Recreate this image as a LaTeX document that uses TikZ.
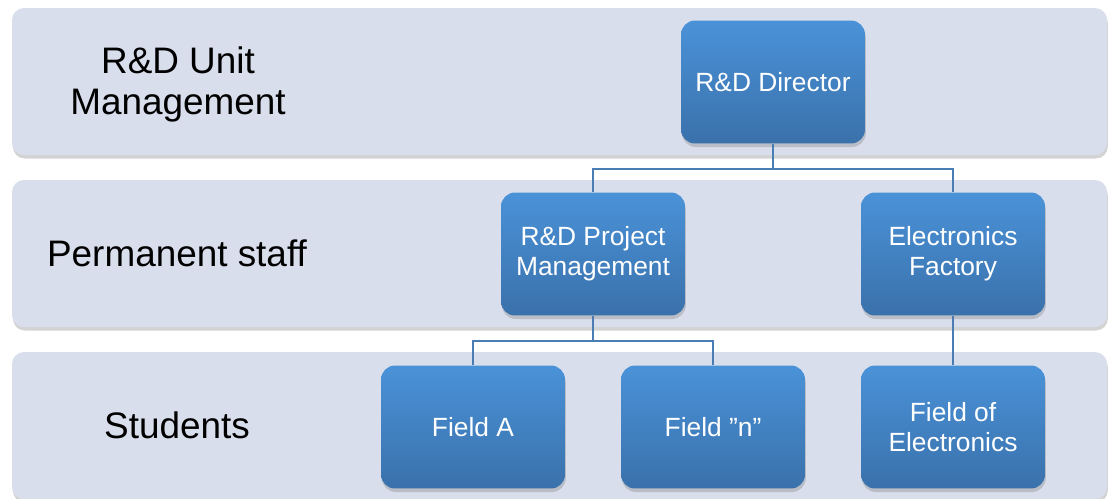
\documentclass[tikz,border=0pt]{standalone}
\usepackage{fontspec}
\setmainfont{Liberation Sans}
\usetikzlibrary{shadows}
\definecolor{fascia}{HTML}{D9DEEC}
\definecolor{bluchiaro}{HTML}{4A92D8}
\definecolor{bluscuro}{HTML}{3A71AB}
\definecolor{linea}{HTML}{4A7DB4}

\begin{document}
\begin{tikzpicture}[x=0.02cm, y=-0.02cm,
    banda/.style={fill=fascia, rounded corners=0.24cm,
        drop shadow={shadow xshift=0.5pt, shadow yshift=-2pt, opacity=0.35}},
    casella/.style={rectangle, rounded corners=0.28cm, minimum width=3.68cm,
        minimum height=2.46cm, inner sep=0pt, align=center, text=white,
        top color=bluchiaro, bottom color=bluscuro,
        font=\fontsize{15}{17}\selectfont,
        drop shadow={shadow xshift=0.5pt, shadow yshift=-2pt, opacity=0.35}},
    livello/.style={align=center, font=\fontsize{21}{23.3}\selectfont},
    conn/.style={draw=linea, line width=1.1pt}]
    \useasboundingbox (0,0) rectangle (1109,498);
    % Fasce di sfondo
    \fill[banda] (12,8) rectangle (1107,155);
    \fill[banda] (12,180) rectangle (1107,327);
    \fill[banda] (12,352) rectangle (1107,499);
    % Etichette dei livelli
    \node[livello] (unit) at (178,84) {R\&D Unit\\Management};
    \node[livello] (staff) at (177,253) {Permanent staff};
    \node[livello] (stud) at (177,425) {Students};
    % Caselle
    \node[casella] (dir) at (773,82) {R\&D Director};
    \node[casella] (pm) at (593,254) {R\&D Project\\Management};
    \node[casella] (fab) at (953,254) {Electronics\\Factory};
    \node[casella] (fa) at (473,427) {Field A};
    \node[casella] (fn) at (713,427) {Field ”n”};
    \node[casella] (fe) at (953,427) {Field of\\Electronics};
    % Collegamenti
    \draw[conn] (dir.south) -- ++(0,25) -| (pm.north);
    \draw[conn] (dir.south) -- ++(0,25) -| (fab.north);
    \draw[conn] (pm.south) -- ++(0,25) -| (fa.north);
    \draw[conn] (pm.south) -- ++(0,25) -| (fn.north);
    \draw[conn] (fab.south) -- (fe.north);
\end{tikzpicture}
\end{document}
